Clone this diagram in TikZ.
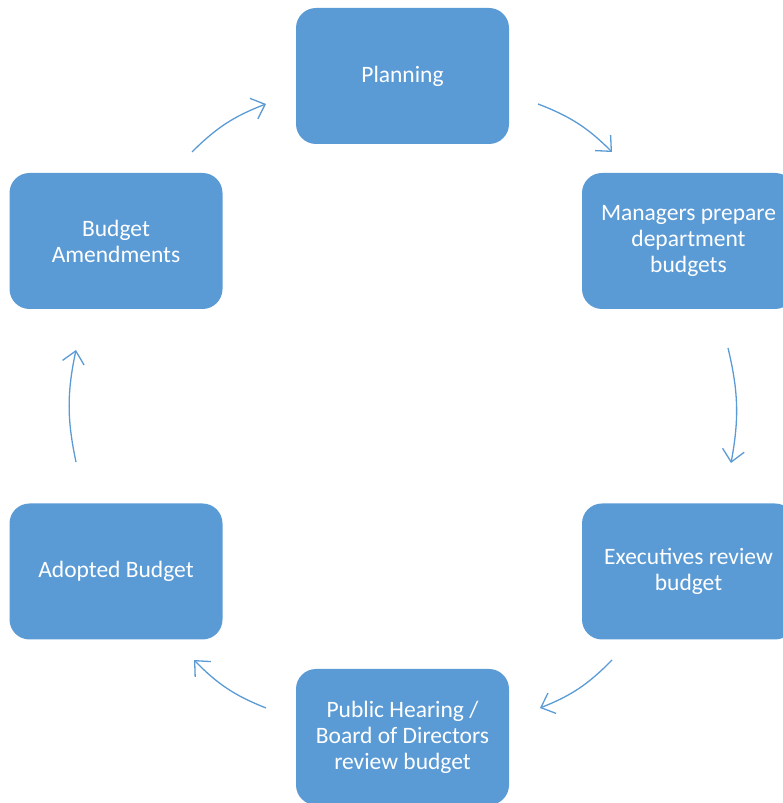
\documentclass[tikz,border=0pt]{standalone}
\usepackage{fontspec}
\setmainfont{Carlito}
\usetikzlibrary{arrows.meta,positioning,calc}
\definecolor{stepblue}{HTML}{5B9BD5}

\begin{document}
\begin{tikzpicture}[x=1pt,y=1pt,
  stage/.style={rectangle, rounded corners=20pt, fill=stepblue, text=white,
    minimum width=213pt, minimum height=136pt, inner sep=2pt, align=center,
    font=\fontsize{23.5}{26}\selectfont},
  flow/.style={draw=stepblue, line width=1.3pt,
    -{Straight Barb[length=12pt,width=22pt,line width=1.3pt]}}]
\useasboundingbox (0,0) rectangle (783,803);
\clip (0,0) rectangle (783,803);
\node [stage] (plan) at (402.5,727) {Planning};
\node [stage] (mgr) at (688.5,562) {Managers prepare\\department\\budgets};
\node [stage] (exec) at (688.5,231.5) {Executives review\\budget};
\node [stage] (board) at (402.5,66) {Public Hearing /\\Board of Directors\\review budget};
\node [stage] (adopt) at (116,231.5) {Adopted Budget};
\node [stage] (amend) at (116,562) {Budget\\Amendments};

\coordinate (a1) at (192,651);
\coordinate (a2) at (266,699);
\coordinate (b1) at (538,699);
\coordinate (b2) at (612,651);
\coordinate (c1) at (728,455);
\coordinate (c2) at (731,340);
\coordinate (d1) at (612,143);
\coordinate (d2) at (540,95);
\coordinate (e1) at (266,95);
\coordinate (e2) at (194,143);
\coordinate (f1) at (76,341);
\coordinate (f2) at (76,453);

\draw [flow] (a1) to [bend left=12] (a2);
\draw [flow] (b1) to [bend left=12] (b2);
\draw [flow] (c1) to [bend left=12] (c2);
\draw [flow] (d1) to [bend left=12] (d2);
\draw [flow] (e1) to [bend left=12] (e2);
\draw [flow] (f1) to [bend left=12] (f2);
\end{tikzpicture}
\end{document}
